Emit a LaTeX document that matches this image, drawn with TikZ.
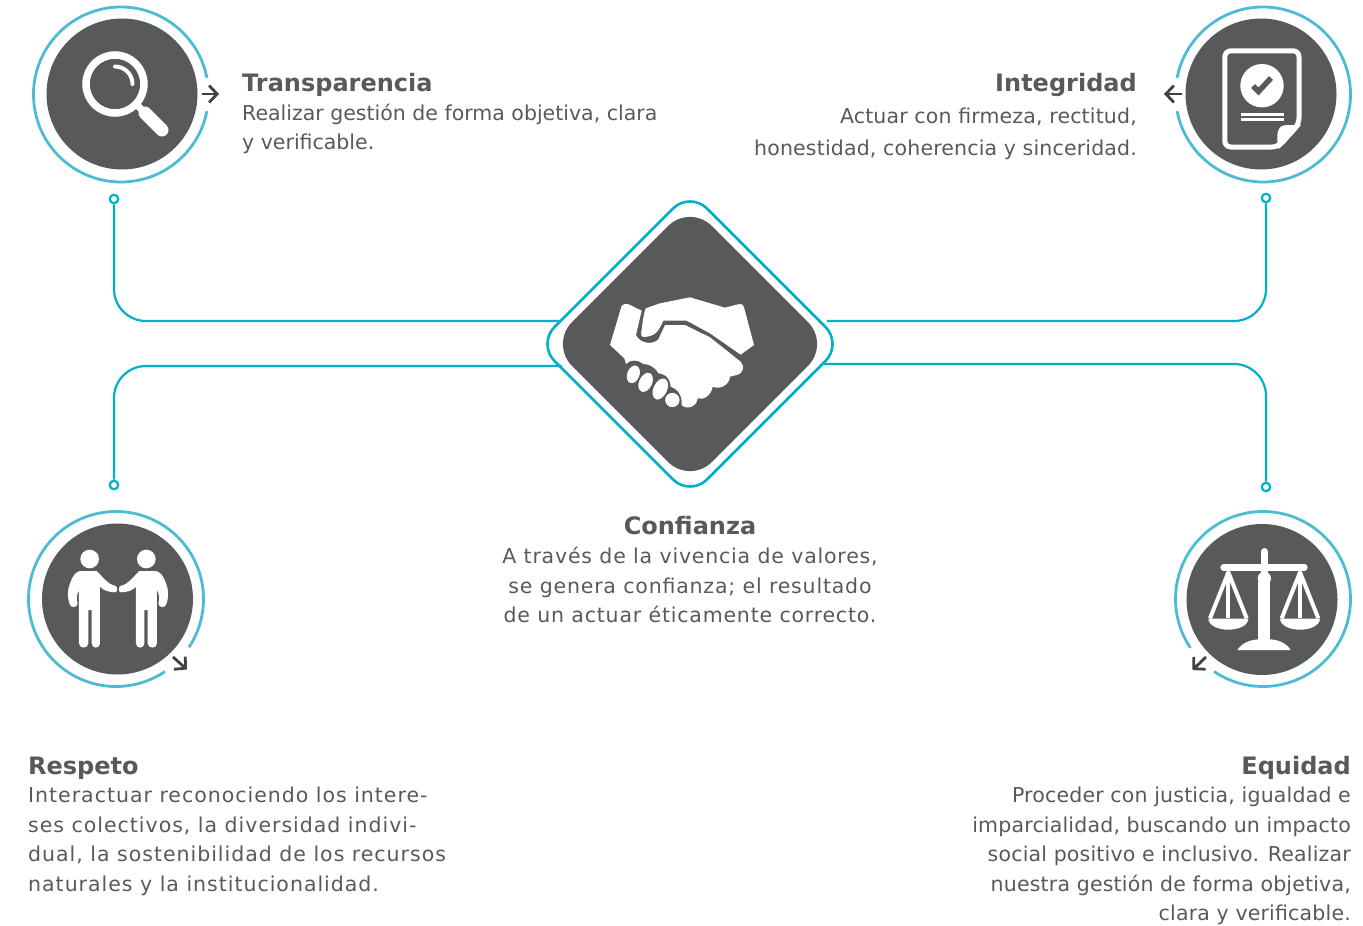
\documentclass[tikz,border=0pt]{standalone}
\usepackage{fontspec}
\setmainfont{DejaVu Sans}
\usetikzlibrary{shapes.geometric,arrows.meta}
\definecolor{darkc}{HTML}{58595B}
\definecolor{ringc}{HTML}{4DBBD3}
\definecolor{linec}{HTML}{00B0C9}
\definecolor{arrowc}{HTML}{414042}
\tikzset{
 disc/.style={circle,fill=darkc,inner sep=0pt,minimum size=151pt},
 ring/.style={draw=ringc,line width=2.8pt},
 conn/.style={draw=linec,line width=2.2pt,rounded corners=32pt},
 pin/.style={circle,draw=linec,line width=2.2pt,fill=white,inner sep=0pt,minimum size=8.5pt},
 turn/.style={draw=arrowc,line width=2.8pt,-{Straight Barb[length=8pt,width=17pt,line width=2.8pt]}},
 head/.style={font=\fontsize{24}{28}\selectfont\bfseries,text=darkc,inner sep=0pt},
 body/.style={font=\fontsize{20.5}{29.5}\selectfont,text=darkc,inner sep=0pt},
 icon/.style={fill=white},
 iconline/.style={draw=white},
 finger/.style={fill=white,draw=darkc,line width=1.4pt},
}
\newcommand{\personpath}{(165,325) .. controls (172,305) and (180,292) .. (195,288) -- (245,288) .. controls (258,300) and (280,330) .. (300,332) .. controls (309,334) and (309,352) .. (300,352) .. controls (285,352) and (265,347) .. (255,335) -- (255,505) .. controls (255,522) and (230,522) .. (230,505) -- (230,405) -- (220,405) -- (220,505) .. controls (220,522) and (192,522) .. (192,505) -- (192,345) .. controls (184,360) and (184,375) .. (188,385) .. controls (188,400) and (165,400) .. (163,385) .. controls (157,365) and (157,345) .. (165,325) -- cycle}
\begin{document}
\begin{tikzpicture}[x=1pt,y=-1pt]
\useasboundingbox (0,0) rectangle (1363,926);
% connectors
\node[diamond,aspect=1,draw=linec,line width=2.6pt,fill=white,rounded corners=24pt,minimum width=306pt,minimum height=306pt,inner sep=0pt] (conf) at (690,344) {};
\node[diamond,aspect=1,fill=darkc,rounded corners=31pt,minimum width=280pt,minimum height=280pt,inner sep=0pt] (confin) at (690,344) {};
\node[pin] (pTL) at (114,199) {};
\node[pin] (pTR) at (1266,198) {};
\node[pin] (pBL) at (114,485) {};
\node[pin] (pBR) at (1266,487) {};
\coordinate (eTL) at ([shift={(-130,-23)}]conf.center);
\coordinate (eTR) at ([shift={(137,-23)}]conf.center);
\coordinate (eBL) at ([shift={(-128,22)}]conf.center);
\coordinate (eBR) at ([shift={(132,20)}]conf.center);
\draw[conn] (pTL.south) |- (eTL);
\draw[conn] (pTR.south) |- (eTR);
\draw[conn] (pBL.north) |- (eBL);
\draw[conn] (pBR.north) |- (eBR);
% discs
\node[disc] (dTL) at (122,94) {};
\node[disc] (dTR) at (1261,94) {};
\node[disc] (dBL) at (117.5,599) {};
\node[disc] (dBR) at (1262,599.5) {};
% rings
\draw[ring] (121,94.5) ++(-11:87.5) arc[start angle=-11,end angle=-349,radius=87.5];
\draw[ring] (1263,94.5) ++(191:87.5) arc[start angle=191,end angle=529,radius=87.5];
\draw[ring] (116,599) ++(33.5:87.5) arc[start angle=33.5,end angle=-304,radius=87.5];
\draw[ring] (1263,599) ++(124:87.5) arc[start angle=124,end angle=-214,radius=87.5];
% turn arrows
\coordinate (a1s) at (202,94); \coordinate (a1e) at (219,94);
\coordinate (a2s) at (1182,94); \coordinate (a2e) at (1164,94);
\coordinate (a3s) at (173,657); \coordinate (a3e) at (187,669.5);
\coordinate (a4s) at (1206,657); \coordinate (a4e) at (1192.5,670);
\draw[turn] (a1s) -- (a1e);
\draw[turn] (a2s) -- (a2e);
\draw[turn] (a3s) -- (a3e);
\draw[turn] (a4s) -- (a4e);
% magnifier
\draw[iconline,line width=7.5pt] (115,84) circle[radius=29];
\draw[iconline,line width=4pt,line cap=round] (115,66.5) arc[start angle=-90,end angle=0,radius=17.5];
\draw[iconline,line width=13pt,line cap=round] (145,113) -- (162,130);
\draw[iconline,line width=7pt] (138,106) -- (148,116);
% document
\draw[iconline,line width=5pt,line join=round,rounded corners=6pt] (1224.8,50.8) -- (1299,50.8) -- (1299,124) -- (1278,147) -- (1224.8,147) -- cycle;
\fill[icon] (1277.5,147) .. controls (1277,135) and (1276,125) .. (1287,125) -- (1301,125) -- (1279,149) -- cycle;
\fill[icon] (1262,85.7) circle[radius=21.7];
\draw[draw=darkc,line width=5.5pt] (1253,86) -- (1258.5,91.5) -- (1271,78);
\draw[iconline,line width=2.8pt] (1240.5,114.5) -- (1284,114.5);
\draw[iconline,line width=2.8pt] (1240.5,119.5) -- (1284,119.5);
% handshake
\begin{scope}[xshift=530pt,yshift=-190pt,x=0.33333pt,y=-0.33333pt]
\fill[icon] (275,347) .. controls (280,340) and (290,340) .. (296,343) -- (335,362) -- (318,435) .. controls (330,462) and (370,465) .. (385,448) -- (405,405) -- (465,405) -- (540,442) -- (632,515) .. controls (645,530) and (640,550) .. (620,555) -- (600,560) .. controls (598,585) and (570,600) .. (548,590) .. controls (545,615) and (520,632) .. (503,625) .. controls (500,652) and (470,660) .. (455,645) .. controls (458,615) and (440,595) .. (422,590) .. controls (420,560) and (400,550) .. (385,550) .. controls (375,530) and (355,522) .. (340,522) .. controls (325,508) and (300,508) .. (288,522) -- (283,505) -- (240,465) -- cycle;
\fill[icon] (347,355) -- (390,340) -- (480,322) -- (585,353) -- (628,342) .. controls (636,340) and (640,345) .. (642,352) -- (672,465) -- (632,494) -- (540,430) -- (470,392) -- (400,392) .. controls (385,425) and (375,440) .. (340,441) .. controls (330,440) and (334,425) .. (336,412) .. controls (338,395) and (340,375) .. (347,355) -- cycle;
\draw[finger,rotate around={-20:(310,553)}] (310,553) ellipse[x radius=21,y radius=30];
\draw[finger,rotate around={-25:(347,577)}] (347,577) ellipse[x radius=22,y radius=33];
\draw[finger,rotate around={-25:(391,597)}] (391,597) ellipse[x radius=23,y radius=36];
\draw[finger] (427,630) circle[radius=24];
\end{scope}
% people
\begin{scope}[xshift=15pt,yshift=-475pt,x=0.33333pt,y=-0.33333pt]
\fill[icon] (224,252) circle[radius=28];
\fill[icon] (394,252) circle[radius=28];
\fill[icon] \personpath;
\fill[icon,shift={(618,0)},xscale=-1] \personpath;
\end{scope}
% scales
\begin{scope}[xshift=1160pt,yshift=-475pt,x=0.33333pt,y=-0.33333pt]
\draw[iconline,line width=6.6pt,line cap=round] (191,277) -- (433,277);
\draw[iconline,line width=6.6pt,line cap=round] (313,229) -- (313,300);
\fill[icon] (313,310) circle[radius=20];
\fill[icon] (295,320) rectangle (331,500);
\fill[icon] (232,525) .. controls (245,505) and (270,493) .. (300,493) -- (326,493) .. controls (355,493) and (380,505) .. (392,525) -- cycle;
\draw[iconline,line width=4pt,line join=round] (150,430) -- (205,292) -- (260,430);
\draw[iconline,line width=4pt] (205,292) -- (205,430);
\fill[icon] (145,431) -- (265,431) .. controls (262,475) and (148,475) .. (145,431) -- cycle;
\draw[iconline,line width=4pt,line join=round] (365,430) -- (420,292) -- (475,430);
\draw[iconline,line width=4pt] (420,292) -- (420,430);
\fill[icon] (360,431) -- (480,431) .. controls (477,475) and (363,475) .. (360,431) -- cycle;
\end{scope}
% texts
\node[head,anchor=base west] (h1) at (242,91) {Transparencia};
\node[body,anchor=north west,align=left] (t1) at (242,103.5) {Realizar gestión de forma objetiva, clara\\y verificable.};
\node[head,anchor=base east] (h2) at (1137,91) {Integridad};
\node[body,anchor=north east,align=right,font=\fontsize{20.5}{32}\selectfont\addfontfeatures{LetterSpace=0.8}] (t2) at (1137,108) {Actuar con firmeza, rectitud,\\honestidad, coherencia y sinceridad.};
\node[head,anchor=base] (h3) at (690,534) {Confianza};
\node[body,anchor=north,align=center,font=\fontsize{20.5}{29.5}\selectfont\addfontfeatures{LetterSpace=3.9}] (t3) at (690,547) {A través de la vivencia de valores,\\se genera confianza; el resultado\\de un actuar éticamente correcto.};
\node[head,anchor=base west] (h4) at (28,774) {Respeto};
\node[body,anchor=north west,align=left,font=\fontsize{20.5}{29.5}\selectfont\addfontfeatures{LetterSpace=4.8}] (t4) at (28,787) {Interactuar reconociendo los intere-\\ses colectivos, la diversidad indivi-\\dual, la sostenibilidad de los recursos\\naturales y la institucionalidad.};
\node[head,anchor=base east] (h5) at (1351,774) {Equidad};
\node[body,anchor=north east,align=right,font=\fontsize{20.5}{29.5}\selectfont\addfontfeatures{LetterSpace=0.9}] (t5) at (1351,787) {Proceder con justicia, igualdad e\\imparcialidad, buscando un impacto\\social positivo e inclusivo. Realizar\\nuestra gestión de forma objetiva,\\clara y verificable.};
\end{tikzpicture}
\end{document}
